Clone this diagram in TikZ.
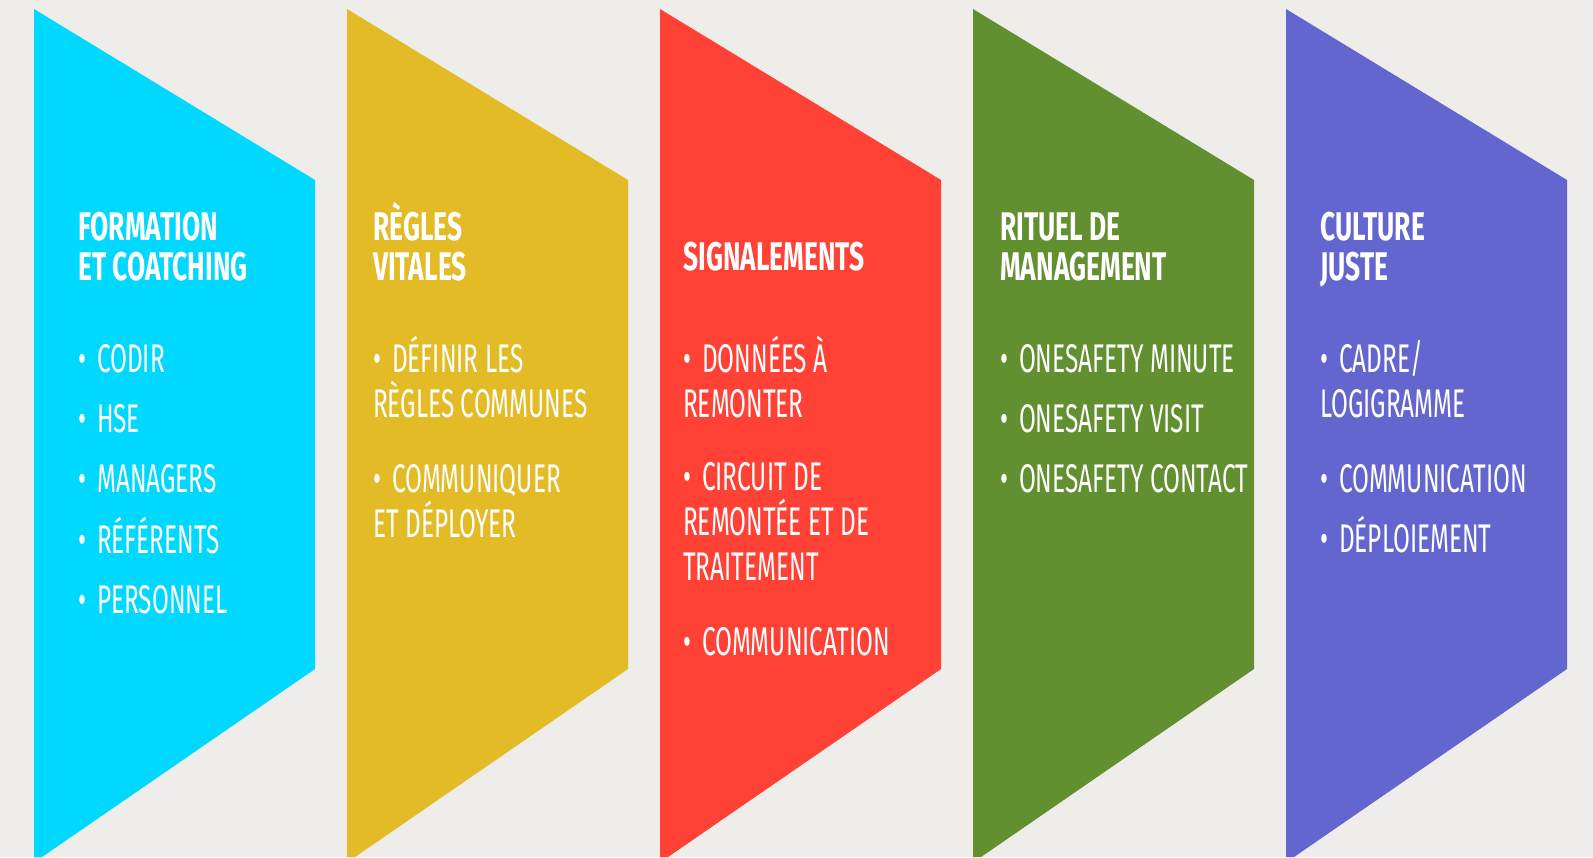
\documentclass[tikz,border=0pt]{standalone}
\usepackage{fontspec}
\newfontfamily\lightfont{Fira Sans}[FakeStretch=0.61]
\newfontfamily\boldfont{Fira Sans}[FakeStretch=0.66,UprightFont=*,BoldFont=* Bold]
\definecolor{bgc}{RGB}{238,237,233}
\definecolor{cyanc}{RGB}{0,216,255}
\definecolor{yellowc}{RGB}{226,187,38}
\definecolor{redc}{RGB}{255,65,54}
\definecolor{greenc}{RGB}{98,143,47}
\definecolor{purplec}{RGB}{99,102,207}
\newcommand\colshape[2]{%
  \fill[#2] (#1+34,9) -- (#1+315,180) -- (#1+315,669) -- (#1+42,857) -- (#1+34,857) -- cycle;}
\newcommand\bul{•\hspace{11pt}}
\begin{document}
\begin{tikzpicture}[x=1pt,y=-1pt,
  title/.style={anchor=base west, inner sep=0pt, text=white, align=left,
    font=\boldfont\bfseries\fontsize{40}{40}\selectfont},
  item/.style={anchor=base west, inner sep=0pt, text=white, align=left,
    font=\lightfont\fontsize{40}{45}\selectfont}]
\fill[bgc] (0,0) rectangle (1593,857);
\useasboundingbox (0,0) rectangle (1593,857);
\clip (0,0) rectangle (1593,857);
\colshape{0}{cyanc}
\colshape{313}{yellowc}
\colshape{626}{redc}
\colshape{939}{greenc}
\colshape{1252}{purplec}
% column 1 (base = last line)
\node[title] (t1) at (78,280) {FORMATION\\ET COATCHING};
\node[item] (a1) at (78,372) {\bul CODIR};
\node[item] (a2) at (78,432) {\bul HSE};
\node[item] (a3) at (78,492) {\bul MANAGERS};
\node[item] (a4) at (78,553) {\bul RÉFÉRENTS};
\node[item] (a5) at (78,613) {\bul PERSONNEL};
% column 2
\node[title] (t2) at (373,280) {RÈGLES\\VITALES};
\node[item] (b1) at (373,417) {\bul DÉFINIR LES\\RÈGLES COMMUNES};
\node[item] (b2) at (373,537) {\bul COMMUNIQUER\\ET DÉPLOYER};
% column 3
\node[title] (t3) at (683,270) {SIGNALEMENTS};
\node[item] (c1) at (683,417) {\bul DONNÉES À\\REMONTER};
\node[item] (c2) at (683,580) {\bul CIRCUIT DE\\REMONTÉE ET DE\\TRAITEMENT};
\node[item] (c3) at (683,655) {\bul COMMUNICATION};
% column 4
\node[title] (t4) at (1000,280) {RITUEL DE\\MANAGEMENT};
\node[item] (d1) at (1000,372) {\bul ONESAFETY MINUTE};
\node[item] (d2) at (1000,432) {\bul ONESAFETY VISIT};
\node[item] (d3) at (1000,492) {\bul ONESAFETY CONTACT};
% column 5
\node[title] (t5) at (1320,280) {CULTURE\\JUSTE};
\node[item] (e1) at (1320,417) {\bul CADRE/\\LOGIGRAMME};
\node[item] (e2) at (1320,492) {\bul COMMUNICATION};
\node[item] (e3) at (1320,552) {\bul DÉPLOIEMENT};
\end{tikzpicture}
\end{document}
